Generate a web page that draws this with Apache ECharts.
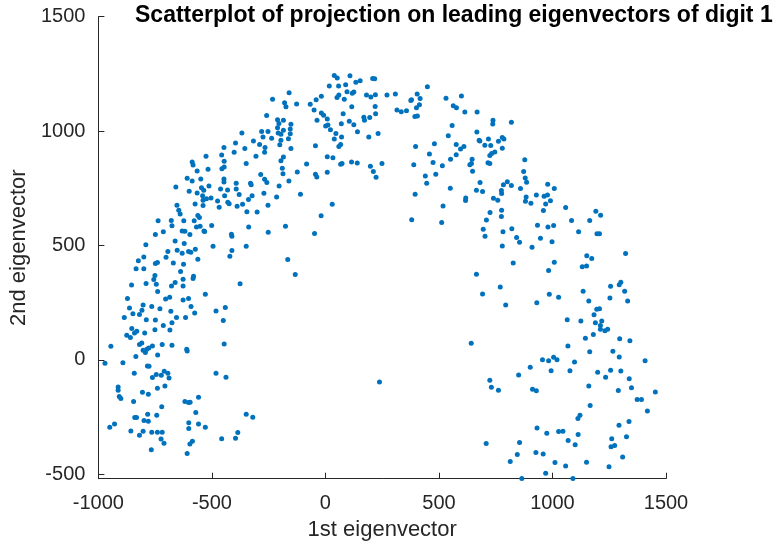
<!DOCTYPE html>
<html>
<head>
<meta charset="utf-8">
<script src="https://cdn.jsdelivr.net/npm/echarts@6/dist/echarts.min.js"></script>
<style>
html,body{margin:0;padding:0;background:#fff;}
#chart{width:780px;height:547px;}
</style>
</head>
<body>
<div id="chart"></div>
<script>
// Chart texts
const chartTitle = 'Scatterplot of projection on leading eigenvectors of digit 1';
const xName = '1st eigenvector';
const yName = '2nd eigenvector';
const xTicks = [-1000, -500, 0, 500, 1000, 1500];
const yTicks = [-500, 0, 500, 1000, 1500];

// Projection on 1st eigenvector (x) and 2nd eigenvector (y)
const eig1 = [
-160,-233,-180,-174,-259,-211,-185,-205,-211,-152,-185,-155,-208,-196,-281,-253,-368,-275,-237,-196,
-163,-155,-317,-290,-266,-201,-396,-402,-355,-447,-457,-268,-306,-185,-196,-152,-526,-587,-583,-446,
-456,-446,-349,-517,-565,-190,-187,-609,-549,-587,-447,-447,-393,-330,-327,-285,-268,-258,-204,-161,
-659,-600,-546,-536,-513,-462,-431,-393,-271,-215,-565,-541,-539,-504,-524,-444,-380,-323,-339,-574,
-539,-475,-468,-430,-424,-389,-365,-654,-646,-640,-346,-301,-253,-737,-679,-624,-578,-562,-555,-676,
-501,-338,-176,-749,-714,-631,-619,-597,-568,-552,-535,-532,-414,-412,-252,-791,-662,-622,-495,-349,
-824,-800,-694,-702,-653,-631,-603,-593,-573,-562,-421,-412,-166,-834,-800,-749,-740,-670,-625,-638,
-751,-581,-583,-627,-756,
-854,-790,-745,-678,-662,-627,-376,-739,-529,-872,-704,-686,-627,-603,-803,-765,-863,-729,-808,-848,
-819,-681,-592,-576,-482,-441,-886,-789,-749,-656,-616,-676,-450,-714,-853,-841,-831,-796,-875,-859,
-751,-685,-819,-809,-762,-778,-787,-803,-793,-719,-676,-611,-609,-446,-945,-835,-739,-971,-892,-784,
-777,-842,-745,-723,-710,-694,-689,-762,-482,-438,-913,-913,-908,-901,-806,-780,-740,-707,-845,-721,
-619,-603,-596,-559,-571,-743,-783,-840,-832,-799,-780,-349,-320,-950,-929,-857,-819,-803,-765,-740,
-719,-724,-711,-602,-602,-559,-529,-457,-396,-386,-597,-586,-767,-609,
39,52,108,208,217,17,58,89,134,153,449,95,118,125,181,200,220,271,308,51,
59,83,-18,-41,-127,-67,-50,116,219,169,172,195,221,78,-18,-8,8,-37,70,105,
125,1,11,22,46,39,71,67,59,141,191,232,-44,8,33,67,73,115,140,198,
211,223,249,-83,-124,-44,-38,8,-110,30,-19,-48,-133,379,376,404,417,414,401,315,
334,357,394,405,531,599,563,577,614,558,541,576,595,610,576,480,458,397,389,474,
515,486,551,636,440,446,395,550,618,617,518,380,512,
668,738,737,819,667,677,680,718,702,728,762,779,786,779,646,643,724,732,746,716,
724,648,878,873,880,886,681,665,692,784,801,819,775,776,859,740,759,884,881,905,
929,963,978,991,970,979,1008,960,1058,725,709,776,775,695,703,782,821,842,855,934,
980,1005,947,998,910,779,1084,1115,1164,1191,1212,1196,1207,1322,1151,1173,1131,1150,1008,983,
827,665,
692,770,794,931,986,1027,1135,1160,1253,1256,1294,1301,1318,1331,1195,1207,1183,1065,1125,1189,
1217,1211,1211,1231,1243,1180,1145,1296,1341,1068,1164,1266,1294,1408,956,983,1005,1020,1097,902,
851,994,1077,1199,1256,1301,1234,1338,642,724,731,762,912,929,1160,1290,1348,1453,1373,1392,
1418,1166,1121,1112,1293,1337,932,975,1027,1046,1113,1069,1100,1261,1274,1258,1326,708,855,845,
927,959,814,1011,1058,1150,1249,1309,970,865,1090,238
];
const eig2 = [
1168,1139,1124,1106,1068,1050,1047,1033,1015,1030,1004,1009,992,986,998,998,992,974,969,960,
967,989,957,942,928,940,948,908,924,928,896,908,890,887,870,924,890,865,852,868,
835,843,859,833,826,838,814,794,791,782,791,778,772,772,766,810,790,775,760,782,
756,737,753,742,760,747,743,747,728,712,730,718,698,708,704,717,723,717,701,682,
675,695,667,689,683,672,680,676,654,638,648,646,676,608,609,608,608,631,622,586,
587,581,584,548,560,564,562,548,581,584,564,561,549,541,558,503,520,509,497,497,
434,450,474,449,479,466,474,471,484,440,453,478,439,399,399,421,426,424,418,386,
369,366,356,353,351,
328,334,331,323,338,323,333,299,287,269,266,274,262,269,240,234,227,224,217,202,
199,213,233,205,214,229,185,176,175,186,186,163,172,151,137,118,125,118,108,98,
132,131,67,74,61,52,47,42,32,68,64,47,39,70,60,15,22,-15,-12,-26,
-28,-58,-64,-67,-49,-58,-79,-77,-58,-76,-118,-132,-160,-169,-141,-150,-124,-114,-182,-205,
-182,-186,-185,-163,-230,-242,-237,-252,-252,-265,-268,-237,-250,-294,-280,-310,-329,-312,-316,-316,
-316,-345,-364,-274,-300,-280,-294,-344,-342,-317,-367,-355,-392,-409,
1243,1232,1242,1230,1229,1197,1197,1203,1214,1220,1194,1172,1166,1171,1158,1149,1159,1158,1162,1147,
1158,1139,1152,1137,1118,1117,1092,1107,1108,1061,1048,1059,1076,1076,1079,1069,1053,1048,1032,1043,
1028,1022,1027,1006,990,965,974,942,933,997,974,990,936,888,884,855,858,865,861,846,
823,798,859,856,821,812,799,820,724,680,630,553,373,1137,1134,1162,1143,1115,1102,1092,
1085,1089,1064,1066,1144,1153,1111,1102,1083,1024,980,941,922,933,897,945,900,933,853,863,
849,812,877,853,804,772,724,750,708,697,673,613,601,
1084,1047,1031,1039,996,960,957,966,938,937,956,972,966,925,877,858,893,902,909,862,
858,825,875,823,795,777,775,742,736,766,779,762,740,727,749,707,698,712,693,685,
721,715,721,696,682,768,749,653,666,644,612,654,627,571,541,560,573,535,514,589,
581,587,532,516,493,498,609,560,609,650,632,551,552,465,455,443,407,411,427,391,
424,375,
288,319,240,250,287,274,300,258,271,322,329,339,300,258,221,224,198,176,170,162,
170,150,134,128,134,111,95,93,84,61,36,38,13,-3,1,-4,12,1,-9,-32,
-66,-47,-47,-54,-45,-48,-76,-82,73,-89,-119,-132,-128,-135,-114,-134,-121,-140,-173,-173,
-223,-199,-242,-256,-285,-269,-297,-320,-313,-312,-326,-352,-371,-344,-374,-379,-336,-365,-361,-413,
-405,-411,-444,-448,-464,-447,-467,-424,-495,-518,-518,-96
];

const points = eig1.map((v, i) => [v, eig2[i]]);

const axisColor = '#262626';
const fontFamily = '"Liberation Sans", Arial, Helvetica, sans-serif';

const chart = echarts.init(document.getElementById('chart'), null, {renderer: 'canvas'});
chart.setOption({
  animation: false,
  backgroundColor: '#ffffff',
  textStyle: {fontFamily: fontFamily},
  title: {
    text: chartTitle,
    left: 135,
    top: 4,
    padding: 0,
    textStyle: {fontFamily: fontFamily, fontWeight: 'bold', fontSize: 23, color: '#000000'}
  },
  grid: {left: 95, top: 16.7, right: 114, bottom: 68.3, containLabel: false},
  xAxis: {
    type: 'value',
    min: -1000, max: 1500, interval: 500,
    name: xName,
    nameLocation: 'middle',
    nameGap: 40,
    nameTextStyle: {fontFamily: fontFamily, fontSize: 22, color: axisColor},
    axisLine: {show: true, onZero: false, lineStyle: {color: axisColor, width: 1}},
    axisTick: {show: true, inside: true, length: 6, lineStyle: {color: axisColor}},
    axisLabel: {margin: 15, fontSize: 20, color: axisColor, fontFamily: fontFamily,
      formatter: v => String(v)},
    splitLine: {show: false}
  },
  yAxis: {
    type: 'value',
    min: -519, max: 1500,
    name: yName,
    nameLocation: 'middle',
    nameGap: 68,
    nameRotate: 90,
    nameTextStyle: {fontFamily: fontFamily, fontSize: 22, color: axisColor},
    axisLine: {show: true, onZero: false, lineStyle: {color: axisColor, width: 1}},
    axisTick: {show: true, inside: true, length: 6, customValues: yTicks, lineStyle: {color: axisColor}},
    axisLabel: {margin: 13, fontSize: 20, color: axisColor, fontFamily: fontFamily,
      customValues: yTicks, formatter: v => String(v)},
    splitLine: {show: false}
  },
  series: [{
    type: 'scatter',
    data: points,
    symbol: 'circle',
    symbolSize: 5,
    itemStyle: {color: '#0072BD', opacity: 1},
    emphasis: {disabled: true}
  }]
});
</script>
</body>
</html>
